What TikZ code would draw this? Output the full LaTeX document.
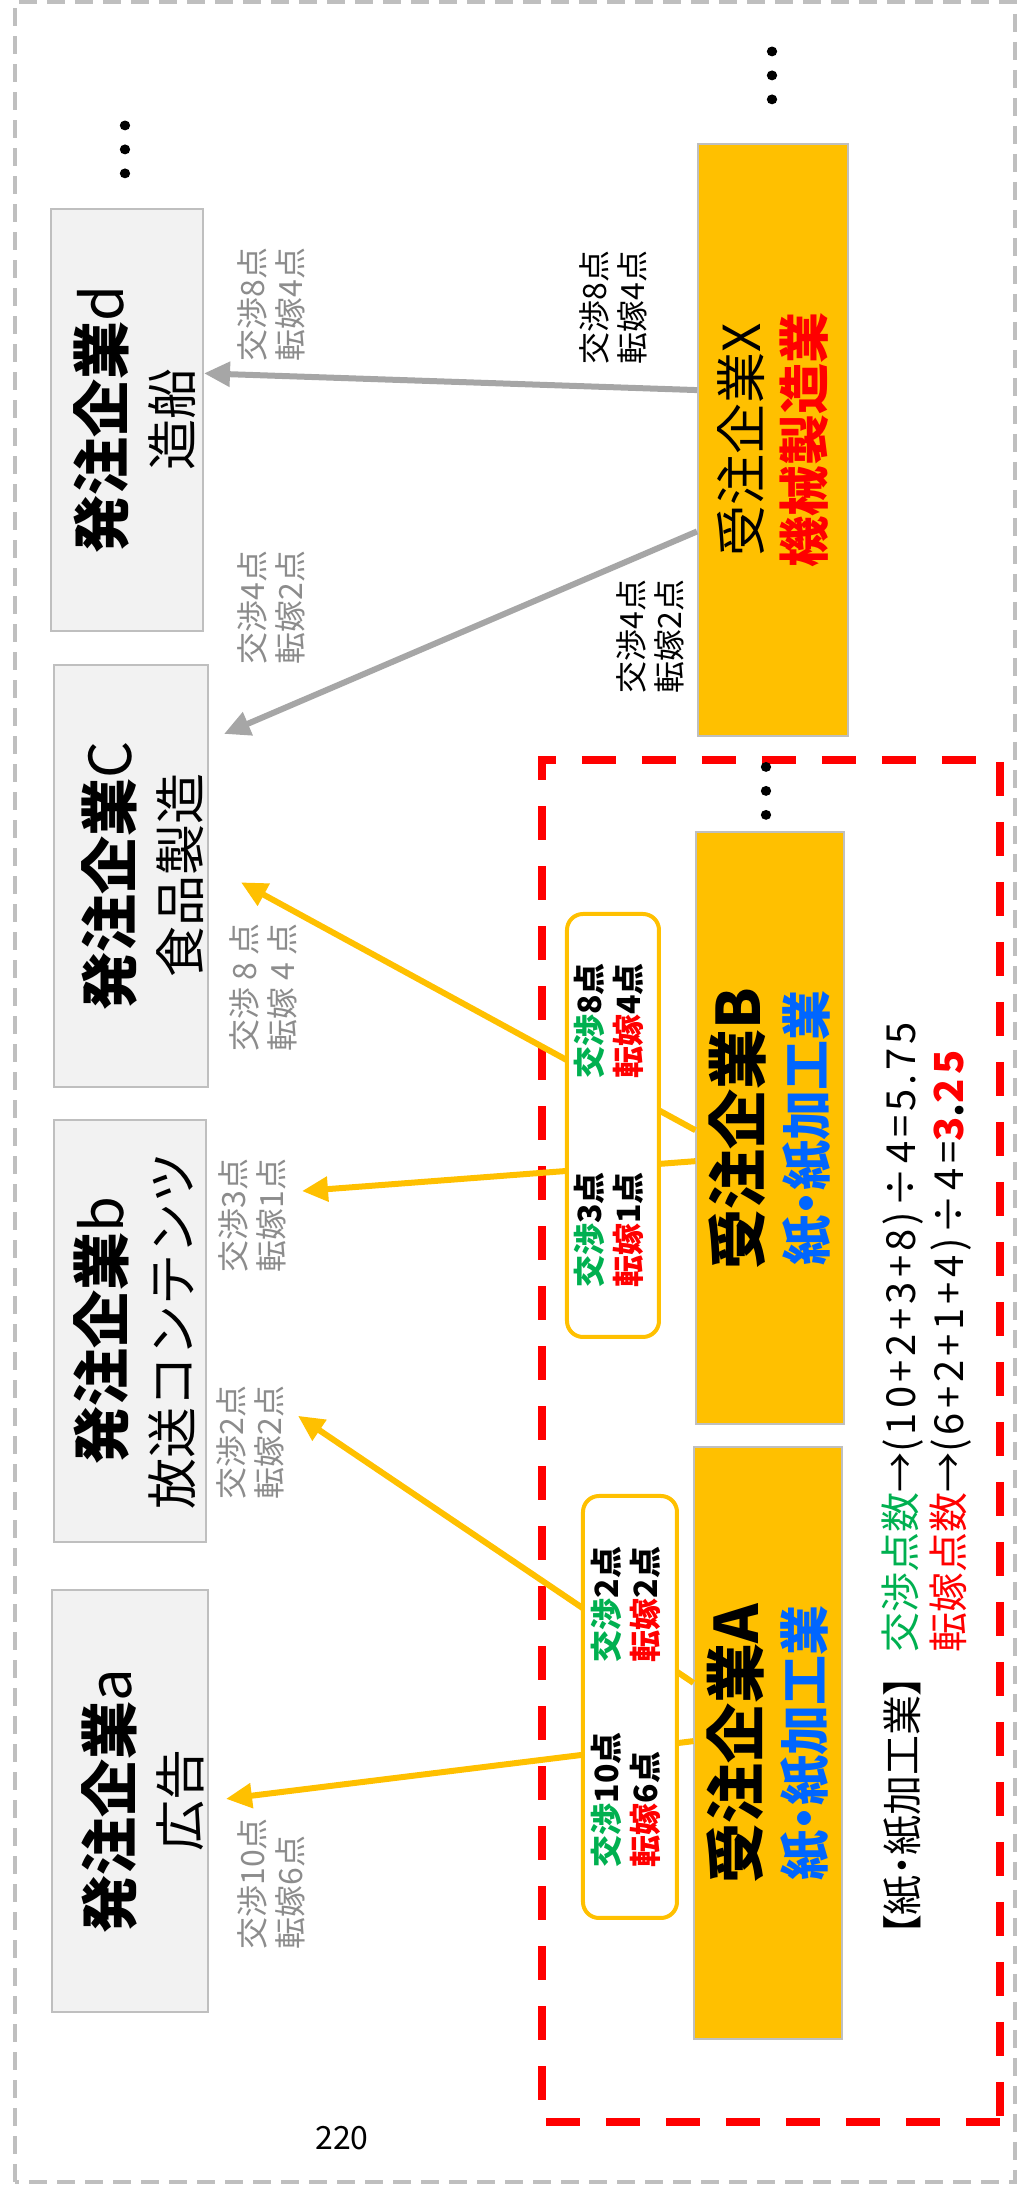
\documentclass[tikz,border=0pt]{standalone}
\usepackage{fontspec}
\setmainfont{Noto Sans CJK JP}
\usetikzlibrary{arrows.meta,calc}

\definecolor{kiiro}{HTML}{FFC000}
\definecolor{hai}{HTML}{A6A6A6}
\definecolor{waku}{HTML}{BFBFBF}
\definecolor{usuhai}{HTML}{F2F2F2}
\definecolor{midori}{HTML}{00B050}
\definecolor{aka}{HTML}{FF0000}
\definecolor{ao}{HTML}{0066FF}
\definecolor{mojihai}{HTML}{8C8C8C}

\newcommand{\oyamoji}{\fontsize{29pt}{34pt}\selectfont\bfseries}
\newcommand{\juchumei}{\fontsize{30pt}{32.6pt}\selectfont\bfseries}
\newcommand{\gyoushu}{\bfseries\addfontfeature{RawFeature=+palt}}

\tikzset{
  hatchu/.style={draw=waku, line width=1pt, fill=usuhai, minimum width=211pt,
    minimum height=76pt, inner sep=0pt, align=center,
    font=\fontsize{25.5pt}{34pt}\selectfont},
  juchu/.style={draw=waku, line width=1pt, fill=kiiro, minimum width=296pt,
    minimum height=74pt, inner sep=0pt, align=center},
  tenka/.style={draw=kiiro, line width=2pt, fill=white, rounded corners=8pt,
    minimum width=211pt, minimum height=47pt, inner sep=0pt,
    font=\fontsize{16pt}{19pt}\selectfont\bfseries},
  memo/.style={anchor=west, inner sep=0pt, align=left,
    font=\fontsize{16pt}{19pt}\selectfont},
  tenten/.style={inner sep=0pt, font=\fontsize{32pt}{32pt}\selectfont\addfontfeature{FakeBold=2}},
  kiyaji/.style={kiiro, line width=3pt, -{Triangle[length=13pt, width=12pt]}},
  haiyaji/.style={hai, line width=3pt, -{Triangle[length=13pt, width=12pt]}},
}

\begin{document}
\begin{tikzpicture}[x=0.5pt, y=0.5pt]

        \pgfmathsetmacro{\W}{1017}
        \pgfmathsetmacro{\H}{2186}
        \useasboundingbox (-\W,0) rectangle (0,\H);

        % 1. 外枠とページ番号
        \draw[waku, line width=2pt, dash pattern=on 9pt off 5pt] (-1002,4) rectangle (-2,2184);
        \node[font=\fontsize{16pt}{19pt}\selectfont] (peji) at (-675,48) {220};

        \begin{scope}[rotate=90, transform shape]

        % 2. 紙・紙加工業の赤枠
        \draw[aka, line width=4pt, dash pattern=on 17pt off 13pt] (64,17) rectangle (1426,475);

        % 3. 発注企業（上段）
        \foreach \n/\u/\v/\s/\t/\h in {A/385/887/a/広告/40, B/855/887/b/放送コンテンツ/32,
                                      C/1310/886/C/食品製造/39, D/1766/890/d/造船/35}
            \node[hatchu] (hatchu\n) at (\u,\v)
                {\rule{0pt}{\h pt}{\oyamoji 発注企業{\mdseries\s}}\\\t\rule[-4pt]{0pt}{0pt}};

        % 4. 受注企業（下段）
        \node[juchu, font=\fontsize{25pt}{32.6pt}\selectfont] (juchuA) at (442.5,248.5)
            {{\juchumei 受注企業A}\\{\gyoushu\color{ao}紙・紙加工業}};
        \node[juchu, font=\fontsize{25pt}{32.6pt}\selectfont] (juchuB) at (1057.5,246.5)
            {{\juchumei 受注企業B}\\{\gyoushu\color{ao}紙・紙加工業}};
        \node[juchu, minimum height=75pt, font=\fontsize{25.5pt}{31.5pt}\selectfont] (juchuX) at (1746,244)
            {受注企業X\\{\bfseries\color{aka}機械製造業}};

        % 省略記号
        \node[tenten] (tentenD) at (2035.5,892) {…};
        \node[tenten] (tentenX) at (2109.5,245) {…};
        \node[tenten] (tentenB) at (1394,251) {…};

        % 5. 取引の矢印
        \draw[kiyaji] ($(juchuA.north west)!0.504!(juchuA.north east)$)
            -- ($(hatchuA.south west)!0.505!(hatchuA.south east)+(0,-17)$);
        \draw[kiyaji] ($(juchuA.north west)!0.602!(juchuA.north east)$)
            -- ($(hatchuB.south west)!0.30!(hatchuB.south east)+(0,-91)$);
        \draw[kiyaji] ($(juchuB.north west)!0.445!(juchuB.north east)$)
            -- ($(hatchuB.south west)!0.83!(hatchuB.south east)+(0,-95)$);
        \draw[kiyaji] ($(juchuB.north west)!0.497!(juchuB.north east)$)
            -- ($(hatchuC.south west)!0.485!(hatchuC.south east)+(0,-32)$);
        \draw[haiyaji] ($(juchuX.north west)!0.346!(juchuX.north east)$)
            -- ($(hatchuC.south west)!0.835!(hatchuC.south east)+(0,-15)$);
        \draw[haiyaji] ($(juchuX.north west)!0.584!(juchuX.north east)$)
            -- ($(hatchuD.south west)!0.61!(hatchuD.south east)$);

        % 6. 点数のまとめ枠
        \node[tenka] (tenkaA) at (479,387)
            {\begin{tabular}{@{}l@{\hspace{35pt}}l@{}}
             {\color{midori}交渉}10点 & {\color{midori}交渉}2点\\
             {\color{aka}転嫁}6点 & {\color{aka}転嫁}2点
             \end{tabular}};
        \node[tenka, minimum width=211.5pt, minimum height=46pt] (tenkaB) at (1060.5,404)
            {\begin{tabular}{@{}l@{\hspace{47pt}}l@{}}
             {\color{midori}交渉}3点 & {\color{midori}交渉}8点\\
             {\color{aka}転嫁}1点 & {\color{aka}転嫁}4点
             \end{tabular}};

        % 7. 矢印ごとの点数
        \node[memo, text=mojihai] (memoA) at (236,745.5) {交渉10点\\転嫁6点};
        \node[memo, text=mojihai] (memoB2) at (686,767) {交渉2点\\転嫁2点};
        \node[memo, text=mojihai] (memoB3) at (913,765) {交渉3点\\転嫁1点};
        \node[memo, text=mojihai] (memoC8) at (1134,754) {交渉 8 点\\転嫁 4 点};
        \node[memo, text=mojihai] (memoC4) at (1521,745.5) {交渉4点\\転嫁2点};
        \node[memo, text=mojihai] (memoD8) at (1824,745.5) {交渉8点\\転嫁4点};
        \node[memo] (memoX8) at (1821,404) {交渉8点\\転嫁4点};
        \node[memo] (memoX4) at (1492,367) {交渉4点\\転嫁2点};

        % 8. 平均点の計算
        \node[anchor=west, inner sep=0pt,
              font=\fontsize{20pt}{24pt}\selectfont\addfontfeature{RawFeature=+palt}] (bunrui)
            at (250,114) {【紙・紙加工業】};
        \node[anchor=west, inner sep=0pt, align=left, font=\fontsize{20pt}{24pt}\selectfont] (keisan)
            at (533,90)
            {{\color{midori}交渉点数}→{\addfontfeature{LetterSpace=10}(10+2+3+8)÷4=5.75}\\
             {\color{aka}転嫁点数}→{\addfontfeature{LetterSpace=10}(6+2+1+4)÷4=\bfseries{\color{aka}3}.{\color{aka}25}}};

        \end{scope}
    \end{tikzpicture}
\end{document}
